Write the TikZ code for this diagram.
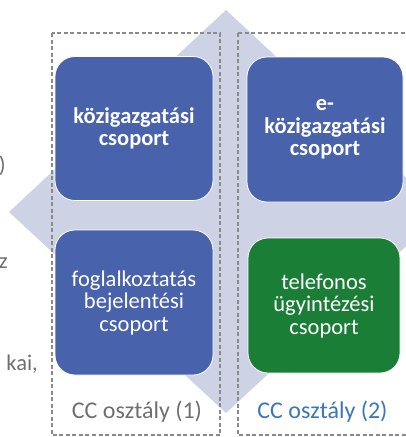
\documentclass[tikz,border=0pt]{standalone}
\usepackage{fontspec}
\setmainfont{Carlito}
\usetikzlibrary{positioning}

\definecolor{groupblue}{HTML}{4862AC}
\definecolor{groupgreen}{HTML}{1B7E36}
\definecolor{diamondgray}{HTML}{CED2E5}
\definecolor{dashgray}{HTML}{8A8A8A}
\definecolor{labelgray}{HTML}{6F6F6F}
\definecolor{labelblue}{HTML}{3A77B6}

\begin{document}
\begin{tikzpicture}[
    x=1pt, y=-1pt,
    group/.style={rectangle, rounded corners=20pt, draw=white, line width=0.8pt, fill=groupblue, text=white, align=center, inner sep=0pt, minimum width=158pt, minimum height=144pt, font=\fontsize{22.5}{22.5}\selectfont},
    bold group/.style={group, font=\fontsize{22.5}{22.5}\selectfont\bfseries},
    class/.style={draw=dashgray, line width=1.4pt, dash pattern=on 4pt off 2.5pt},
    classlabel/.style={font=\fontsize{24}{26}\selectfont},
    fragment/.style={anchor=east, text=labelgray, inner sep=0pt, font=\fontsize{22.5}{26}\selectfont}
]
    \useasboundingbox (0,0) rectangle (406,437);

    % Background diamond
    \fill [diamondgray] (226,10) -- (443,212) -- (226,413) -- (9,212) -- cycle;

    % Cut-off text on the left
    \node [fragment] (frag1) at (6,166) {)};
    \node [fragment] (frag2) at (8,263) {z};
    \node [fragment] (frag3) at (38,364) {kai,};

    % CC classes
    \draw [class] (52,33) rectangle (220,435);
    \draw [class] (238,33) rectangle (410,435);

    % Groups
    \node [bold group] (g1) at (134,128.5) {közigazgatási\\csoport};
    \node [bold group, minimum width=156pt, minimum height=145pt] (g2) at (325,129.5) {e-\\közigazgatási\\csoport};
    \node [group, minimum height=145pt] (g3) at (134,302.5) {foglalkoztatás\\bejelentési\\csoport};
    \node [group, fill=groupgreen, minimum width=152pt, minimum height=135pt] (g4) at (324,305.5) {telefonos\\ügyintézési\\csoport};

    % Class labels
    \node [classlabel, text=labelgray] (c1) at (137,412) {CC osztály (1)};
    \node [classlabel, text=labelblue] (c2) at (322.5,412) {CC osztály (2)};
\end{tikzpicture}
\end{document}
